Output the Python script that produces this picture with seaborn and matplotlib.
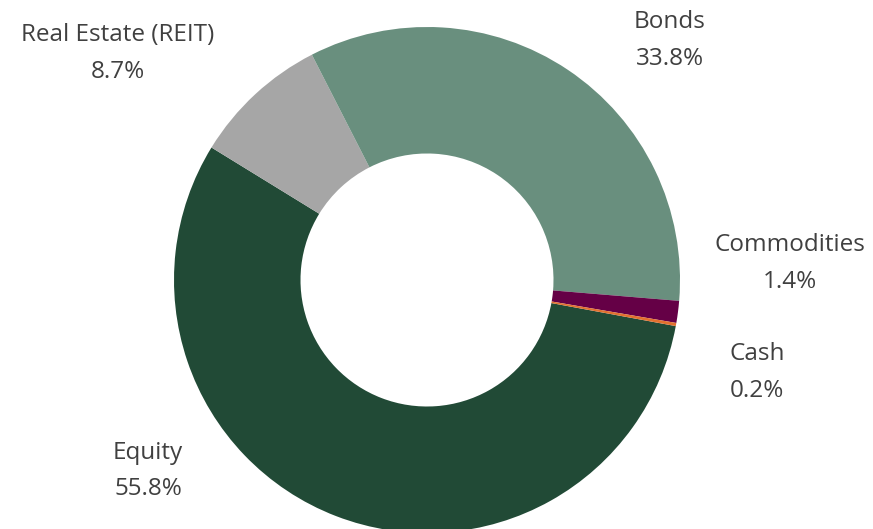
import matplotlib
matplotlib.use("Agg")
import matplotlib.pyplot as plt
import seaborn as sns

categories = ["Equity", "Real Estate (REIT)", "Bonds", "Commodities", "Cash"]
shares = [55.8, 8.7, 33.8, 1.4, 0.2]
colors = ["#214a36", "#a6a6a6", "#698f7e", "#650046", "#e2702f"]

# label centres in axis units (pie radius = 1)
label_pos = [(-1.103, -0.755), (-1.221, 0.895), (0.960, 0.945), (1.435, 0.064), (1.304, -0.365)]

sns.set_theme(style="white")
plt.rcParams["font.family"] = ["Open Sans", "DejaVu Sans"]

fig = plt.figure(figsize=(8.73, 5.29), dpi=100)
ax = fig.add_axes([0, 0, 1, 1])

ax.pie(
    shares,
    colors=colors,
    startangle=-10.5,
    counterclock=False,
    radius=1.0,
    wedgeprops=dict(width=0.5, linewidth=0),
)

for name, val, (x, y) in zip(categories, shares, label_pos):
    ax.text(x, y, f"{name}\n{val:.1f}%", ha="center", va="center",
            fontsize=17.5, color="#404040", linespacing=1.72)

r = 253
ax.set_xlim(-427 / r, (873 - 427) / r)
ax.set_ylim(-(529 - 280) / r, 280 / r)
ax.set_aspect("auto")
ax.axis("off")

fig.savefig("out.png", dpi=100)
